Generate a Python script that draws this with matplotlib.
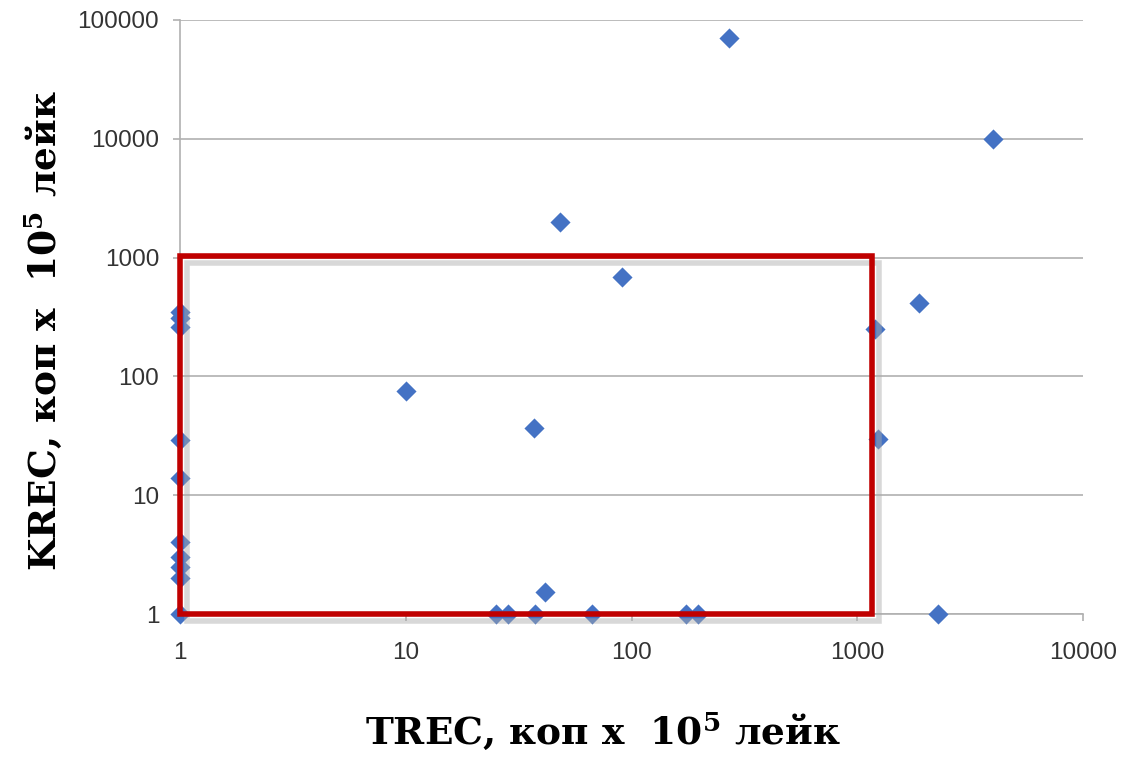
import matplotlib
matplotlib.use('Agg')
import matplotlib.pyplot as plt
import matplotlib.patheffects as pe
from matplotlib.patches import Rectangle
from matplotlib.ticker import FixedLocator, FuncFormatter, NullLocator

# TREC / KREC values
trec = [1, 1, 1, 1, 1, 1, 1, 1, 1, 1,
        10, 37, 48, 91, 270, 4000, 1870, 1200, 1230, 2280,
        25, 28.5, 37.5, 67, 174, 197, 41.5]
krec = [350, 310, 260, 29, 14, 4, 3, 2.5, 2, 1,
        75, 37, 2000, 680, 70000, 10000, 415, 250, 30, 1,
        1, 1, 1, 1, 1, 1, 1.53]

x_ticks = [1, 10, 100, 1000, 10000]
y_ticks = [1, 10, 100, 1000, 10000, 100000]

# highlighted region
box_x = (1, 1160)
box_y = (1, 1030)

plt.rcParams['mathtext.default'] = 'regular'

fig = plt.figure(figsize=(11.23, 7.57), dpi=100)
ax = fig.add_axes([0.1603, 0.1889, 0.8041, 0.7847])

ax.set_xscale('log')
ax.set_yscale('log')
ax.set_xlim(1, 10000)
ax.set_ylim(1, 100000)

# horizontal grid only
ax.yaxis.grid(True, color='#b0b0b0', linewidth=1.2)
ax.set_axisbelow(True)

ax.scatter(trec, krec, marker='D', s=105, color='#4472C4', zorder=3, clip_on=False,
           linewidths=0)

# red box with soft shadow
rect = Rectangle((box_x[0], box_y[0]), box_x[1] - box_x[0], box_y[1] - box_y[0],
                 fill=False, edgecolor='#C00000', linewidth=4, zorder=4, clip_on=False)
rect.set_path_effects([pe.SimpleLineShadow(offset=(5, -5), shadow_color='#aaaaaa', alpha=0.45),
                       pe.Normal()])
ax.add_patch(rect)

fmt = FuncFormatter(lambda v, p: '%d' % v)
ax.xaxis.set_major_locator(FixedLocator(x_ticks))
ax.yaxis.set_major_locator(FixedLocator(y_ticks))
ax.xaxis.set_minor_locator(NullLocator())
ax.yaxis.set_minor_locator(NullLocator())
ax.xaxis.set_major_formatter(fmt)
ax.yaxis.set_major_formatter(fmt)

for s in ['top', 'right']:
    ax.spines[s].set_visible(False)
for s in ['left', 'bottom']:
    ax.spines[s].set_color('#b0b0b0')
    ax.spines[s].set_linewidth(1.2)

ax.tick_params(axis='both', length=5, width=1.2, color='#b0b0b0', direction='out',
               labelsize=17.5, labelcolor='#333333')
ax.tick_params(axis='x', pad=15)
ax.tick_params(axis='y', pad=10)
for lab in ax.get_xticklabels() + ax.get_yticklabels():
    lab.set_fontfamily('Liberation Sans')

ax.set_xlabel('TREC, коп х  10$^5$ лейк', fontsize=27, fontweight='bold',
              family='DejaVu Serif')
ax.set_ylabel('KREC, коп х  10$^5$ лейк', fontsize=27, fontweight='bold',
              family='DejaVu Serif')
ax.xaxis.set_label_coords(0.468, -0.162)
ax.yaxis.set_label_coords(-0.128, 0.478)

fig.savefig('out.png', dpi=100)
